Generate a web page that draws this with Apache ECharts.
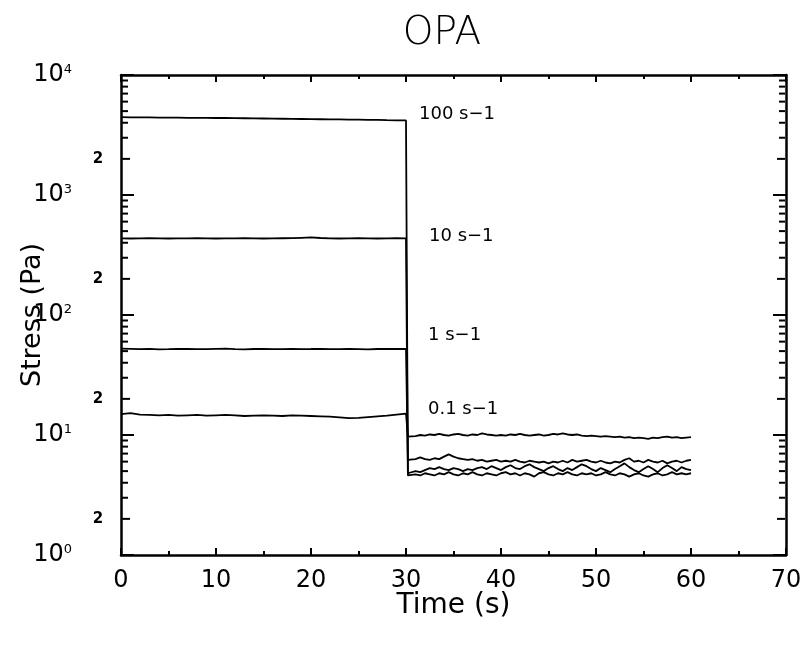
<!DOCTYPE html>
<html>
<head>
<meta charset="utf-8">
<script src="https://cdn.jsdelivr.net/npm/echarts@6/dist/echarts.min.js"></script>
<style>
html,body{margin:0;padding:0;background:#fff;}
#chart{width:805px;height:648px;}
</style>
</head>
<body>
<div id="chart"></div>
<script>
// ---- data ----
const timeBefore = [0,1,2,3,4,5,6,7,8,9,10,11,12,13,14,15,16,17,18,19,20,21,22,23,24,25,26,27,28,29,30];
const timeAfter = [30.2,31,31.5,32,32.5,33,33.5,34,34.5,35,35.5,36,36.5,37,37.5,38,38.5,39,39.5,40,40.5,41,41.5,42,42.5,43,43.5,44,44.5,45,45.5,46,46.5,47,47.5,48,48.5,49,49.5,50,50.5,51,51.5,52,52.5,53,53.5,54,54.5,55,55.5,56,56.5,57,57.5,58,58.5,59,59.5,60];

const s100Before = [4450,4440,4440,4430,4420,4420,4410,4400,4400,4390,4380,4380,4370,4360,4350,4340,4330,4320,4310,4300,4290,4280,4270,4260,4250,4240,4230,4220,4200,4190,4180];
const s10Before = [435,434,435,436,435,434,435,435,436,435,434,435,435,436,435,434,435,436,437,440,443,438,435,434,435,436,435,434,435,436,435];
const s1Before = [52.5,52.3,52,52.2,51.8,52,52.3,52.1,51.9,52,52.2,52.4,52,51.8,52.1,52.3,52,51.9,52.2,52,52.1,52.3,51.9,52,52.2,52,51.8,52.1,52.3,52.1,52.2];
const s01Before = [14.9,15.2,14.8,14.7,14.6,14.7,14.5,14.6,14.7,14.5,14.6,14.7,14.6,14.4,14.5,14.6,14.5,14.4,14.6,14.5,14.4,14.3,14.2,14.0,13.8,13.9,14.1,14.3,14.5,14.8,15.1];

const s100After = [4.6,4.7,4.6,4.8,4.7,4.6,4.8,4.7,4.9,4.7,4.6,4.8,4.7,4.9,4.7,4.6,4.8,4.7,4.6,4.8,4.9,4.7,4.8,4.6,4.8,4.7,4.5,4.8,4.9,4.7,4.6,4.8,4.7,4.9,4.7,4.6,4.8,4.7,4.8,4.6,4.7,4.9,4.7,4.6,4.8,4.7,4.5,4.7,4.8,4.6,4.5,4.7,4.8,4.6,4.7,4.9,4.7,4.8,4.7,4.8];
const s10After = [4.8,5.0,4.9,5.1,5.3,5.2,5.4,5.2,5.1,5.3,5.2,5.0,5.2,5.1,5.3,5.4,5.2,5.5,5.3,5.1,5.4,5.6,5.3,5.2,5.5,5.7,5.4,5.2,5.0,5.3,5.5,5.2,5.0,5.3,5.1,5.4,5.7,5.5,5.2,5.0,5.3,5.1,4.9,5.2,5.5,5.8,5.4,5.1,4.9,5.2,5.5,5.2,4.9,5.3,5.6,5.3,5.0,5.4,5.2,5.1];
const s1After = [6.2,6.3,6.5,6.3,6.2,6.4,6.3,6.6,6.9,6.6,6.4,6.3,6.2,6.3,6.1,6.2,6.0,6.1,6.2,6.0,6.1,6.0,6.2,6.0,5.9,6.1,6.0,5.9,6.0,5.8,6.0,5.9,6.1,5.9,6.2,6.0,6.1,6.2,6.0,5.9,6.1,5.9,5.8,6.0,5.9,6.2,6.4,6.0,6.1,5.9,6.2,6.0,5.9,6.1,5.8,6.0,6.1,5.9,6.1,6.2];
const s01After = [9.7,9.8,10.0,9.9,10.1,10.0,10.2,10.0,9.9,10.1,10.2,10.0,9.9,10.1,10.0,10.3,10.1,10.0,9.9,10.0,9.9,10.1,10.0,10.2,10.0,9.9,10.0,10.1,9.9,10.0,10.2,10.1,10.3,10.1,10.0,10.1,9.9,9.8,9.9,9.8,9.7,9.8,9.7,9.6,9.7,9.5,9.6,9.4,9.5,9.4,9.3,9.5,9.4,9.6,9.7,9.5,9.6,9.4,9.5,9.6];

const seriesLabels = ['100 s\u22121','10 s\u22121','1 s\u22121','0.1 s\u22121'];
const xTickValues = [0,10,20,30,40,50,60,70];
const yMajorTicks = [1,10,100,1000,10000];
const yMinorTicks = [2,3,4,5,6,7,8,9,20,30,40,50,60,70,80,90,200,300,400,500,600,700,800,900,2000,3000,4000,5000,6000,7000,8000,9000];
const minorLabelText = '2';

// ---- chart ----
const FONT = 'DejaVu Sans';
const chart = echarts.init(document.getElementById('chart'), null, {renderer:'canvas'});

function build(before, after){
  return timeBefore.map((t,i)=>[t, before[i]]).concat(timeAfter.map((t,i)=>[t, after[i]]));
}
const befores = [s100Before, s10Before, s1Before, s01Before];
const afters = [s100After, s10After, s1After, s01After];
const labelOffsets = [[13,-6],[23,-2],[22,-14],[22,-4]];

const lineSeries = befores.map((b,k)=>({
  type:'line',
  xAxisIndex:0, yAxisIndex:0,
  data: build(b, afters[k]),
  symbol:'none',
  lineStyle:{color:'#000', width:1.8},
  z:3,
  markPoint:{
    symbol:'circle', symbolSize:0, silent:true,
    data:[{coord:[timeBefore[timeBefore.length-1], b[b.length-1]]}],
    label:{show:true, position:'right', distance:0, offset:labelOffsets[k],
      formatter: seriesLabels[k], color:'#000', fontFamily:FONT, fontSize:18}
  }
}));

const tickSeries = {
  type:'custom',
  xAxisIndex:0, yAxisIndex:0,
  clip:false,
  silent:true,
  z:5,
  data: yMinorTicks.map(v=>[0,v]),
  renderItem: function(params, api){
    const v = api.value(1);
    const p = api.coord([0, v]);
    const pr = api.coord([70, v]);
    const lead = Math.round(v / Math.pow(10, Math.floor(Math.log10(v)+1e-9)));
    const len = lead === 2 ? 9 : 7;
    const children = [
      {type:'polyline', shape:{points:[[p[0]+1, p[1]], [p[0]+len, p[1]]]}, style:{stroke:'#000', lineWidth:2, fill:null}},
      {type:'polyline', shape:{points:[[pr[0]-1, p[1]], [pr[0]-len, p[1]]]}, style:{stroke:'#000', lineWidth:2, fill:null}}
    ];
    if (lead === 2) {
      children.push({type:'text', x:p[0]-23, y:p[1], style:{text:minorLabelText, fill:'#000',
        font:'bold 15px "DejaVu Sans"', align:'center', verticalAlign:'middle'}});
    }
    return {type:'group', children:children};
  }
};

const axisLineStyle = {color:'#000', width:2.5};
const option = {
  animation:false,
  backgroundColor:'#fff',
  title:{
    text:'OPA', left:437, top:9, textAlign:'center',
    textStyle:{fontFamily:FONT, fontSize:39, fontWeight:200, color:'#000'}
  },
  grid:{left:121, right:19, top:75, bottom:93, outerBoundsMode:'none', containLabel:false},
  xAxis:[{
    type:'value', min:0, max:70, interval:10, position:'bottom',
    axisLine:{show:true, onZero:false, lineStyle:axisLineStyle},
    axisTick:{show:true, inside:true, length:7, lineStyle:{color:'#000', width:2}},
    minorTick:{show:true, splitNumber:2, length:4, lineStyle:{color:'#000', width:2}},
    splitLine:{show:false},
    axisLabel:{color:'#000', fontFamily:FONT, fontSize:24, margin:14,
      formatter: v => xTickValues.indexOf(v) >= 0 ? String(v) : ''},
    name:'Time (s)', nameLocation:'middle', nameGap:37, nameMoveOverlap:false,
    nameTextStyle:{color:'#000', fontFamily:FONT, fontSize:28}
  },{
    type:'value', min:0, max:70, interval:10, position:'top',
    axisLine:{show:true, onZero:false, lineStyle:axisLineStyle},
    axisTick:{show:true, inside:true, length:7, lineStyle:{color:'#000', width:2}},
    minorTick:{show:true, splitNumber:2, length:4, lineStyle:{color:'#000', width:2}},
    splitLine:{show:false},
    axisLabel:{show:false}
  }],
  yAxis:[{
    type:'log', logBase:10, min:1, max:10000, position:'left',
    axisLine:{show:true, onZero:false, lineStyle:axisLineStyle},
    axisTick:{show:true, inside:true, length:13, lineStyle:{color:'#000', width:2}},
    splitLine:{show:false},
    axisLabel:{
      margin:49,
      formatter: function(v){
        const e = Math.round(Math.log10(v));
        if (yMajorTicks.indexOf(Math.pow(10,e)) < 0) return '';
        return '{b|10}{s|' + e + '}';
      },
      rich:{
        b:{fontFamily:FONT, fontSize:24, lineHeight:24, color:'#000'},
        s:{fontFamily:FONT, fontSize:13, lineHeight:13, verticalAlign:'top', color:'#000'}
      }
    },
    name:'Stress (Pa)', nameLocation:'middle', nameGap:75, nameMoveOverlap:false,
    nameTextStyle:{color:'#000', fontFamily:FONT, fontSize:27}
  },{
    type:'log', logBase:10, min:1, max:10000, position:'right',
    axisLine:{show:true, onZero:false, lineStyle:axisLineStyle},
    axisTick:{show:true, inside:true, length:13, lineStyle:{color:'#000', width:2}},
    splitLine:{show:false},
    axisLabel:{show:false}
  }],
  series: lineSeries.concat([tickSeries])
};
chart.setOption(option);
</script>
</body>
</html>
